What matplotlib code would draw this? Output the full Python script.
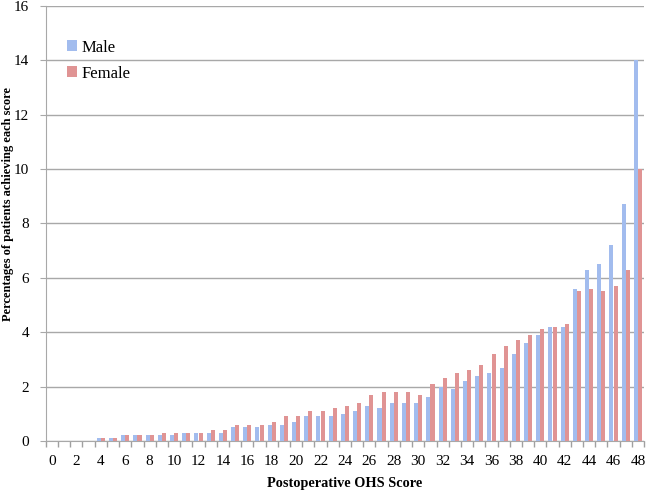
import matplotlib.pyplot as plt
import numpy as np

plt.rcParams['font.family'] = ['Liberation Serif', 'DejaVu Serif']

scores = list(range(0, 49))
male = [0, 0, 0, 0, 0.1, 0.1, 0.2, 0.2, 0.2, 0.2,
        0.2, 0.3, 0.3, 0.3, 0.3, 0.5, 0.5, 0.5, 0.6, 0.6,
        0.7, 0.9, 0.9, 0.9, 1.0, 1.1, 1.3, 1.2, 1.4, 1.4,
        1.4, 1.6, 2.0, 1.9, 2.2, 2.4, 2.5, 2.7, 3.2, 3.6,
        3.9, 4.2, 4.2, 5.6, 6.3, 6.5, 7.2, 8.7, 14.0]
female = [0, 0, 0, 0, 0.1, 0.1, 0.2, 0.2, 0.2, 0.3,
          0.3, 0.3, 0.3, 0.4, 0.4, 0.6, 0.6, 0.6, 0.7, 0.9,
          0.9, 1.1, 1.1, 1.2, 1.3, 1.4, 1.7, 1.8, 1.8, 1.8,
          1.7, 2.1, 2.3, 2.5, 2.6, 2.8, 3.2, 3.5, 3.7, 3.9,
          4.1, 4.2, 4.3, 5.5, 5.6, 5.5, 5.7, 6.3, 10.0]

fig = plt.figure(figsize=(6.46, 4.91), dpi=100)
ax = fig.add_axes([0.071, 0.102, 0.926, 0.886])

x = np.array(scores)
w = 0.33
ax.bar(x - 0.17, male, width=w, color='#a2bcee', label='Male', zorder=3)
ax.bar(x + 0.17, female, width=w, color='#e09494', label='Female', zorder=3)

ax.set_xlim(-0.5, 48.5)
ax.set_ylim(0, 16)
ax.set_yticks(range(0, 17, 2))
ax.yaxis.grid(True, color='#a8a8a8', linewidth=1.0, zorder=0)
ax.set_xticks(range(0, 49, 2))
ax.set_xticks(np.arange(-0.5, 49, 1), minor=True)
ax.tick_params(axis='x', which='major', length=0, labelsize=11, pad=10)
ax.tick_params(axis='x', which='minor', length=4, color='#a0a0a0', width=1)
ax.tick_params(axis='y', length=4, color='#a8a8a8', labelsize=11, pad=8)

for s in ['top', 'right']:
    ax.spines[s].set_visible(False)
ax.spines['left'].set_color('#a8a8a8')
ax.spines['bottom'].set_color('#a8a8a8')

ax.set_xlabel('Postoperative OHS Score', fontsize=10.3, fontweight='bold')
ax.xaxis.set_label_coords(0.5, -0.082)
ax.set_ylabel('Percentages of patients achieving each score', fontsize=9,
              fontweight='bold')
ax.yaxis.set_label_coords(-0.054, 0.545)

ax.legend(loc='upper left', bbox_to_anchor=(0.01, 0.957), frameon=False,
          fontsize=12, handlelength=0.6, handleheight=0.6, handletextpad=0.3,
          labelspacing=0.6)

fig.savefig('out.png', dpi=100)
